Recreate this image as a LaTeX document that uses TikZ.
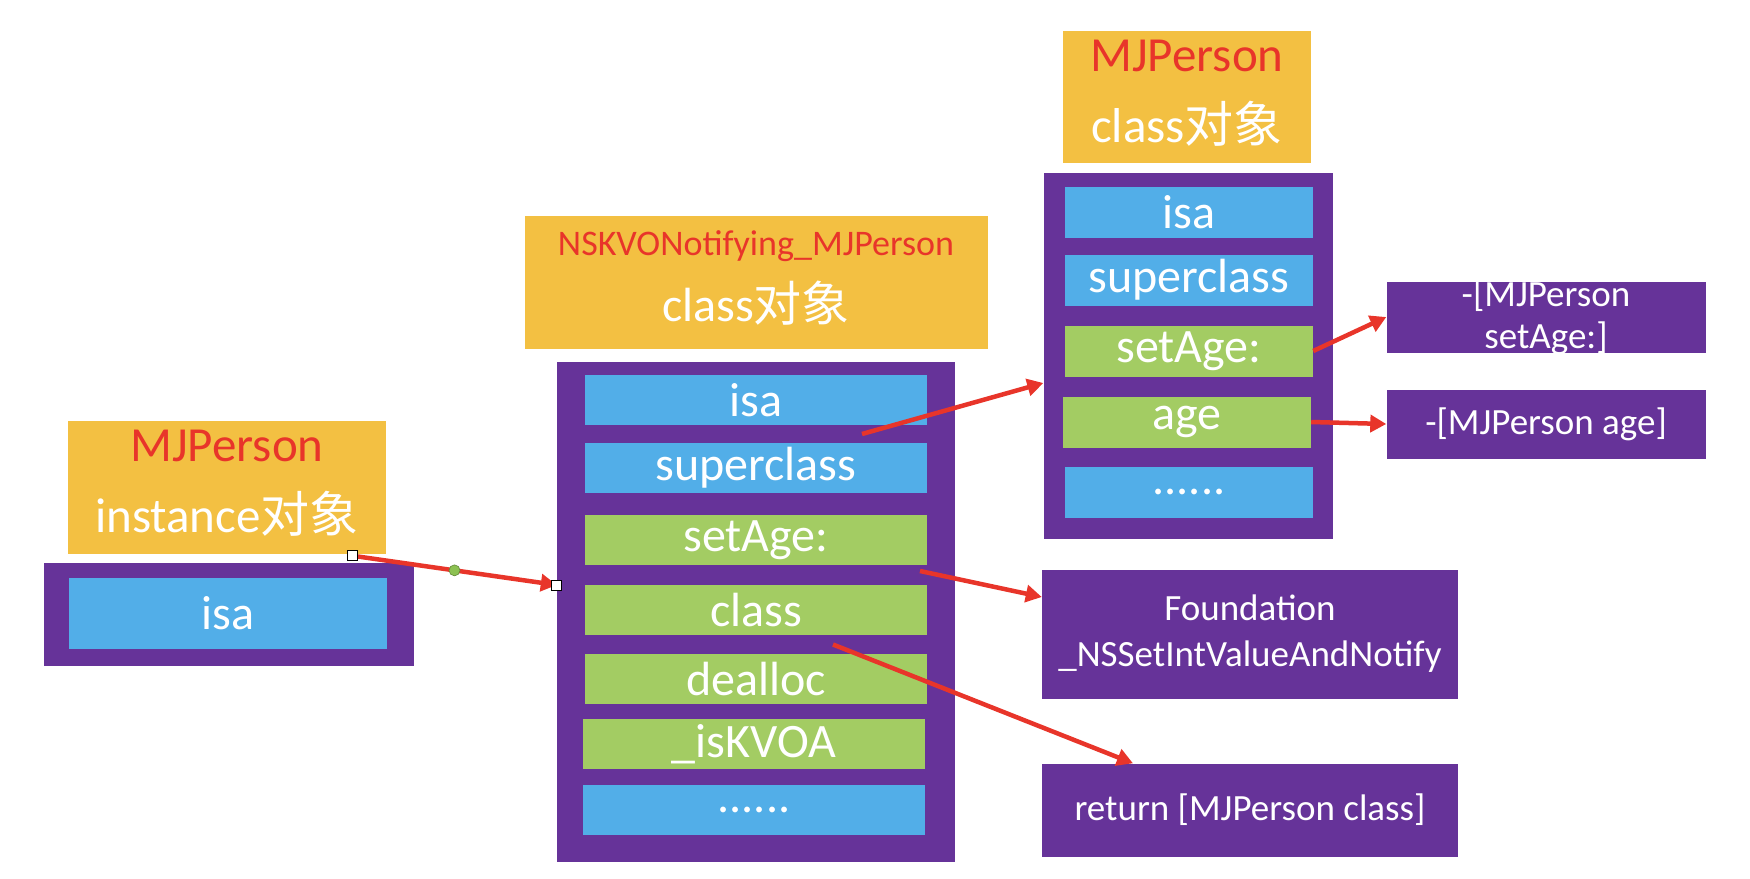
\documentclass[tikz,border=0pt]{standalone}
\usepackage{fontspec}
\setmainfont{Carlito}
\newfontfamily\cjk{Noto Sans CJK SC}
\usetikzlibrary{arrows.meta,calc}
\definecolor{gold}{HTML}{F3C042}
\definecolor{plum}{HTML}{663399}
\definecolor{sky}{HTML}{52AEE8}
\definecolor{leaf}{HTML}{A3CC63}
\definecolor{scarlet}{HTML}{E8352A}
\definecolor{grip}{HTML}{8CC152}

\tikzset{
  headbox/.style={fill=gold, inner sep=0pt},
  headtext/.style={text=white, align=center, inner sep=0pt, yshift=4pt},
  shellbox/.style={fill=plum, inner sep=0pt},
  slotbox/.style={text=white, inner sep=0pt},
  kvoslot/.style={slotbox, minimum width=342, minimum height=50, font=\fontsize{48}{55}\selectfont},
  mjslot/.style={slotbox, minimum width=248, minimum height=51, font=\fontsize{48}{55}\selectfont},
  implbox/.style={fill=plum, text=white, align=center, inner sep=0pt, minimum width=416, font=\fontsize{37}{46}\selectfont},
  impltext/.style={text=white, align=center, inner sep=0pt, font=\fontsize{37}{42}\selectfont},
  ptr/.style={draw=scarlet, line width=4.5pt, -{Triangle[length=16pt,width=17pt]}},
  handlebox/.style={draw=black, fill=white, line width=0.8pt, minimum size=10pt, inner sep=0pt},
  midknob/.style={circle, draw=grip!70!black, fill=grip, line width=0.6pt, minimum size=11pt, inner sep=0pt}
}

\begin{document}
\begin{tikzpicture}[x=1pt,y=-1pt]
\useasboundingbox (0,0) rectangle (1750,878);

\node[headbox, minimum width=318, minimum height=133] (instHead) at (227,487) {};
\node[headtext, font=\fontsize{49}{71}\selectfont] (instTitle) at (instHead) {{\color{scarlet}MJPerson}\\instance{\cjk 对象}};
\node[shellbox, minimum width=370, minimum height=103] (instShell) at (229,614) {};
\node[slotbox, fill=sky, minimum width=318, minimum height=71, font=\fontsize{48}{55}\selectfont] (instIsa) at (228,613) {isa};

\node[headbox, minimum width=463, minimum height=133] (kvoHead) at (756,282) {};
\node[headtext, font=\fontsize{48}{66}\selectfont] (kvoTitle) at (kvoHead) {{\fontsize{36}{66}\selectfont\color{scarlet}NSKVONotifying\_MJPerson}\\class{\cjk 对象}};
\node[shellbox, minimum width=398, minimum height=500] (kvoShell) at (756,612) {};
\node[kvoslot, fill=sky] (kisa) at (756,400) {isa};
\node[kvoslot, fill=sky] (ksuper) at (756,468) {superclass};
\node[kvoslot, fill=leaf] (kset) at (756,540) {setAge:};
\node[kvoslot, fill=leaf] (kcls) at (756,610) {class};
\node[kvoslot, fill=leaf] (kdealloc) at (756,679) {dealloc};
\node[kvoslot, fill=leaf] (kflag) at (754,744) {\_isKVOA};
\node[kvoslot, fill=sky] (kmore) at (754,810) {......};

\node[headbox, minimum width=248, minimum height=132] (mjHead) at (1187,97) {};
\node[headtext, font=\fontsize{49}{71}\selectfont] (mjTitle) at (mjHead) {{\color{scarlet}MJPerson}\\class{\cjk 对象}};
\node[shellbox, minimum width=289, minimum height=366] (mjShell) at (1188,356) {};
\node[mjslot, fill=sky] (misa) at (1189,212) {isa};
\node[mjslot, fill=sky] (msuper) at (1189,280) {superclass};
\node[mjslot, fill=leaf] (mset) at (1189,351) {setAge:};
\node[mjslot, fill=leaf] (mage) at (1187,422) {age};
\node[mjslot, fill=sky] (mmore) at (1189,492) {......};

\node[implbox, minimum width=319, minimum height=71] (setImpl) at (1546,317) {};
\node[impltext] (setText) at (1546,317) {-[MJPerson\\setAge:]};
\node[implbox, minimum width=319, minimum height=69] (ageImpl) at (1546,424) {-[MJPerson age]};
\node[implbox, minimum height=129] (fImpl) at (1250,634) {Foundation\\\_NSSetIntValueAndNotify};
\node[implbox, minimum height=93] (retImpl) at (1250,810) {return [MJPerson class]};

\coordinate (instOut) at ($(instHead.south east)+(-34,2)$);
\coordinate (kvoIn) at ($(kvoShell.west)+(0,-27)$);
\coordinate (isaOut) at ($(kisa.south)!0.5!(ksuper.north)+(106,0)$);
\coordinate (mjIn) at ($(mjShell.west)+(0,27)$);
\coordinate (setOut) at ($(kset.south)!0.5!(kcls.north)+(164,-4)$);
\coordinate (fIn) at ($(fImpl.west)+(0,-37)$);
\coordinate (clsOut) at ($(kcls.south)!0.5!(kdealloc.north)+(77,0)$);
\coordinate (retIn) at ($(retImpl.north)+(-117,0)$);

\draw[ptr] (instOut) -- (kvoIn);
\draw[ptr] (isaOut) -- (mjIn);
\draw[ptr] (mset.east) -- (setImpl.west);
\draw[ptr] (mage.east) -- (ageImpl.west);
\draw[ptr] (setOut) -- (fIn);
\draw[ptr] (clsOut) -- (retIn);

\node[handlebox] (gripA) at (instOut) {};
\node[handlebox] (gripB) at (kvoIn) {};
\node[midknob] (gripMid) at ($(instOut)!0.5!(kvoIn)$) {};
\end{tikzpicture}
\end{document}
